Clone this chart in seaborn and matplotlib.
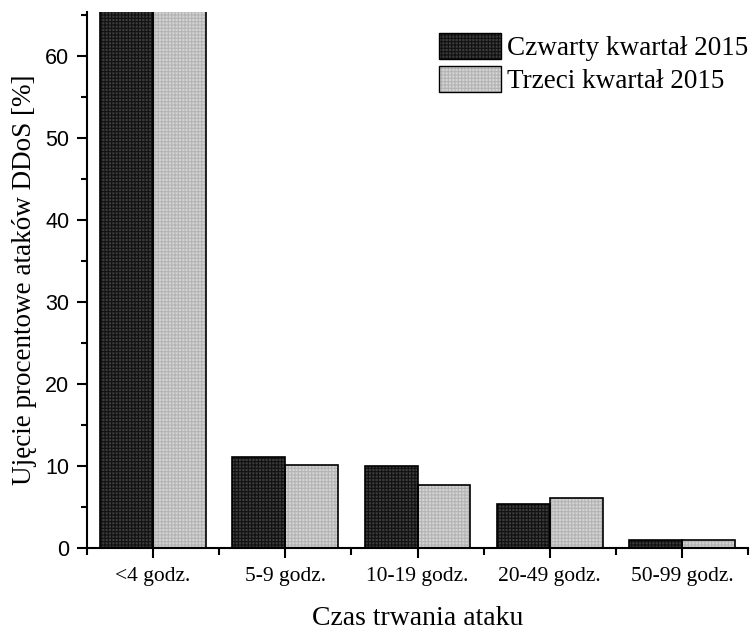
import pandas as pd
import seaborn as sns
import matplotlib.pyplot as plt
from matplotlib.patches import Patch
from matplotlib.ticker import MultipleLocator

# Data
CATEGORIES = ["<4 godz.", "5-9 godz.", "10-19 godz.", "20-49 godz.", "50-99 godz."]
Q4_2015 = [71.5, 11.1, 10.0, 5.4, 1.0]
Q3_2015 = [74.5, 10.1, 7.7, 6.1, 1.0]
SERIES = ["Czwarty kwartał 2015", "Trzeci kwartał 2015"]

data = pd.DataFrame({
    "cat": CATEGORIES * 2,
    "val": Q4_2015 + Q3_2015,
    "series": [SERIES[0]] * len(CATEGORIES) + [SERIES[1]] * len(CATEGORIES),
})

FACE = {SERIES[0]: "#3c3c3c", SERIES[1]: "#d4d4d4"}
HATCH_COL = {SERIES[0]: "#111111", SERIES[1]: "#b4b4b4"}
HATCH = "+++++"

sns.set_style("ticks")
plt.rcParams["hatch.linewidth"] = 0.8

fig = plt.figure(figsize=(7.55, 6.31), dpi=100)
ax = fig.add_axes([0.115, 0.1315, 0.876, 0.85])

# hatched fill, then outlines on top
sns.barplot(data, x="cat", y="val", hue="series", hue_order=SERIES, order=CATEGORIES,
            palette=FACE, width=0.8, gap=0, linewidth=0, ax=ax, legend=False)
for i, bar in enumerate(ax.patches):
    s = SERIES[i // len(CATEGORIES)]
    bar.set_hatch(HATCH)
    bar.set_edgecolor(HATCH_COL[s])
    bar.set_linewidth(0)
sns.barplot(data, x="cat", y="val", hue="series", hue_order=SERIES, order=CATEGORIES,
            width=0.8, gap=0, fill=False, edgecolor="black", linewidth=1.2, ax=ax, legend=False)

ax.set_xlim(-0.5, 4.5)
ax.set_ylim(0, 65.4)
sns.despine(ax=ax)
for sp in ["left", "bottom"]:
    ax.spines[sp].set_linewidth(1.5)
    ax.spines[sp].set_color("black")

ax.yaxis.set_major_locator(MultipleLocator(10))
ax.yaxis.set_minor_locator(MultipleLocator(5))
ax.xaxis.set_minor_locator(MultipleLocator(0.5))
ax.tick_params(axis="both", which="major", direction="out", length=7, width=1.5,
               color="black", labelcolor="black")
ax.tick_params(axis="both", which="minor", direction="out", length=4, width=1.5, color="black")
ax.tick_params(axis="x", which="minor", length=5)
ax.tick_params(axis="y", labelsize=15.5, pad=5.5)
ax.tick_params(axis="x", labelsize=15.5, pad=7)
for lab in ax.get_yticklabels():
    lab.set_family("Liberation Sans")
for lab in ax.get_xticklabels():
    lab.set_family("Liberation Serif")

ax.set_xlabel("Czas trwania ataku", fontsize=20, family="Liberation Serif",
              color="black", labelpad=14)
ax.set_ylabel("Ujęcie procentowe ataków DDoS [%]", fontsize=19.5, family="Liberation Serif",
              color="black", labelpad=6)

handles = [(Patch(facecolor=FACE[s], edgecolor=HATCH_COL[s], hatch=HATCH, linewidth=0),
            Patch(fill=False, edgecolor="black", linewidth=1)) for s in SERIES]
leg = ax.legend(handles, SERIES, loc="upper right", bbox_to_anchor=(1.024, 0.99), frameon=False,
                prop={"family": "Liberation Serif", "size": 19.5}, handlelength=2.3, handleheight=1.1,
                handletextpad=0.2, labelspacing=0.15, borderaxespad=0.2)
for t in leg.get_texts():
    t.set_color("black")

fig.savefig("out.png", dpi=100)
